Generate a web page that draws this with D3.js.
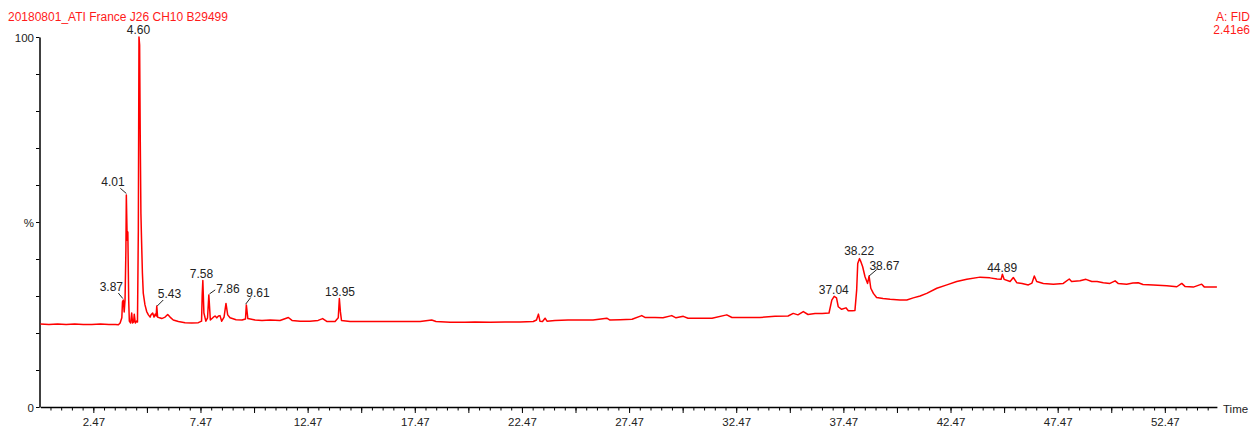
<!DOCTYPE html>
<html lang="en">
<head>
<meta charset="UTF-8">
<title>20180801_ATI France J26 CH10 B29499</title>
<script src="https://cdn.jsdelivr.net/npm/d3@7"></script>
<style>
    body { margin: 0; background: #fff; }
    svg { display: block; font-family: "Liberation Sans", Arial, sans-serif; }
</style>
</head>
<body>
<svg id="chart" width="1252" height="427"></svg>
<script>
// chromatogram trace: [retention time (min), % of max]
const signal = [
    [0.00,22.4],[0.40,22.3],[0.80,22.4],[1.20,22.3],[1.60,22.4],[2.00,22.3],[2.40,22.3],[2.80,22.4],[3.20,22.3],[3.50,22.3],
    [3.64,22.2],[3.72,22.7],[3.80,24.1],[3.83,28.4],[3.87,28.9],[3.91,25.7],[3.95,28.9],[3.99,42.4],[4.01,57.3],[4.05,45.1],
    [4.08,47.3],[4.12,28.9],[4.15,23.2],[4.21,22.7],[4.26,25.4],[4.30,22.7],[4.35,23.0],[4.38,25.1],[4.43,22.7],[4.49,23.2],
    [4.53,23.0],[4.57,47.8],[4.60,100],[4.63,97.8],[4.66,72.2],[4.69,52.4],[4.72,45.1],[4.76,36.2],[4.80,30.8],[4.88,27.6],
    [4.96,25.8],[5.04,24.9],[5.12,24.3],[5.16,24.9],[5.24,25.4],[5.30,24.3],[5.36,25.1],[5.40,24.6],[5.43,27.3],[5.47,24.3],
    [5.56,24.1],[5.66,23.9],[5.82,24.3],[5.94,25.0],[6.05,24.3],[6.20,23.5],[6.44,23.1],[6.75,22.8],[7.06,22.7],[7.37,22.8],
    [7.52,23.2],[7.55,30.3],[7.58,34.2],[7.63,25.4],[7.72,23.2],[7.80,24.1],[7.86,30.3],[7.93,23.5],[8.06,24.2],[8.15,24.6],
    [8.23,24.1],[8.31,24.6],[8.38,24.7],[8.46,23.2],[8.57,24.3],[8.66,28.0],[8.74,24.9],[8.85,24.1],[9.13,23.6],[9.41,23.5],
    [9.57,23.8],[9.61,27.6],[9.68,23.9],[10.02,23.5],[10.34,23.4],[10.72,23.5],[11.18,23.4],[11.57,24.2],[11.74,23.4],[12.12,23.2],
    [12.58,23.2],[12.96,23.4],[13.17,23.9],[13.38,23.1],[13.75,23.1],[13.90,24.1],[13.95,29.3],[14.00,25.7],[14.05,23.4],[14.45,23.1],
    [15.15,23.1],[15.85,23.1],[16.55,23.1],[17.25,23.1],[17.72,23.1],[18.26,23.5],[18.46,23.1],[19.12,22.9],[19.81,22.9],[20.28,23.0],
    [21.00,22.9],[21.68,23.0],[22.38,23.0],[23.00,23.1],[23.15,23.5],[23.24,25.1],[23.31,23.2],[23.43,23.1],[23.55,24.0],[23.64,23.2],
    [24.01,23.4],[24.62,23.5],[25.18,23.5],[25.79,23.5],[26.43,24.0],[26.58,23.5],[27.05,23.6],[27.61,23.7],[28.06,24.7],[28.21,24.2],
    [28.68,24.2],[29.05,24.1],[29.46,24.7],[29.66,24.1],[30.00,24.5],[30.22,24.0],[30.78,24.0],[31.34,24.0],[32.03,24.9],[32.27,24.2],
    [32.88,24.2],[33.58,24.2],[34.28,24.5],[34.89,24.6],[35.13,25.3],[35.35,24.9],[35.60,25.8],[35.82,25.0],[36.15,25.3],[36.48,25.3],
    [36.80,25.4],[36.93,28.9],[37.04,29.9],[37.15,29.5],[37.23,27.1],[37.39,26.4],[37.59,26.8],[37.70,26.0],[37.88,26.0],[38.01,26.1],
    [38.09,31.6],[38.14,38.8],[38.22,40.1],[38.27,39.5],[38.37,37.9],[38.48,35.2],[38.60,33.4],[38.67,35.4],[38.75,32.1],[38.87,30.7],
    [39.02,29.6],[39.32,29.3],[39.65,29.1],[40.11,28.9],[40.43,28.9],[40.73,29.5],[41.05,30.0],[41.36,30.7],[41.83,32.1],[42.30,33.0],
    [42.76,33.9],[43.23,34.5],[43.85,35.1],[44.31,34.9],[44.64,34.6],[44.83,34.5],[44.89,35.9],[44.97,34.5],[45.25,33.9],[45.40,35.0],
    [45.56,33.6],[45.81,33.4],[46.10,33.0],[46.27,33.5],[46.38,35.4],[46.49,33.9],[46.80,33.4],[47.27,33.2],[47.73,33.4],[48.01,34.6],
    [48.12,33.9],[48.51,34.1],[48.79,34.5],[49.06,33.9],[49.31,33.9],[49.60,33.6],[49.91,33.4],[50.15,34.1],[50.29,33.4],[50.69,33.2],
    [50.98,33.5],[51.23,33.6],[51.45,33.1],[51.93,33.0],[52.56,32.8],[53.03,32.5],[53.26,33.4],[53.41,32.6],[53.80,32.4],[54.19,33.2],
    [54.32,32.4],[54.73,32.4],[54.90,32.4]
]

const peakNames = ["3.87","4.01","4.60","5.43","7.58","7.86","9.61","13.95","37.04","38.22","38.67","44.89"]
const peakTimes = [3.87,4.01,4.60,5.43,7.58,7.86,9.61,13.95,37.04,38.22,38.67,44.89]

const xTickLabels = ["2.47","7.47","12.47","17.47","22.47","27.47","32.47","37.47","42.47","47.47","52.47"]
const yTickLabels = ["0","%","100"]

const title = "20180801_ATI France J26 CH10 B29499"
const detector = "A: FID"
const scaleMax = "2.41e6"

// where each peak label sits relative to its peak top (px), with optional leader line
const labelLayout = [
    {anchor:"end", dx:-0.3, dy:-9, leader:[-5,-7,-0.5,-1.5]},
    {anchor:"end", dx:-1.6, dy:-8.7, leader:[-6,-6.7,0,-1.5]},
    {anchor:"middle", dx:-0.5, dy:-3},
    {anchor:"start", dx:1, dy:-7.5, leader:[0.5,0,6.5,-6]},
    {anchor:"middle", dx:-1.3, dy:-2},
    {anchor:"start", dx:7.4, dy:-1.5, leader:[0.7,-1,6.4,-5]},
    {anchor:"start", dx:0, dy:-8.3, leader:[-0.7,-0.7,4.3,-7.3]},
    {anchor:"middle", dx:0.7, dy:-2.8},
    {anchor:"middle", dx:-0.4, dy:-2.5},
    {anchor:"middle", dx:-0.3, dy:-4},
    {anchor:"start", dx:0.3, dy:-6.5, leader:[0,0,7.7,-6.5]},
    {anchor:"middle", dx:-0.2, dy:-2}
]

let svg = d3.select("#chart")

let x = d3.scaleLinear().domain([0, 54.9]).range([40.4, 1216.9])
let y = d3.scaleLinear().domain([0, 100]).range([407, 37])

// title + detector info
svg.append("text").attr("x", 8).attr("y", 21).attr("font-size", 12).attr("fill", "#ff1a1a").text(title)
svg.append("text").attr("x", 1250).attr("y", 21).attr("font-size", 12).attr("fill", "#ff1a1a")
    .attr("text-anchor", "end").text(detector)
svg.append("text").attr("x", 1250).attr("y", 34).attr("font-size", 12).attr("fill", "#ff1a1a")
    .attr("text-anchor", "end").text(scaleMax)

// x axis: minor ticks every 0.5, longer ticks every 2.5, labels every 5
let minorTicks = d3.range(0.47, 54.9, 0.5)
let majorTicks = d3.range(2.47, 54.9, 2.5)

svg.append("g")
    .attr("transform", "translate(0,407)")
    .call(d3.axisBottom(x).tickValues(minorTicks).tickSize(3.5).tickSizeOuter(0).tickFormat(""))
    .call(g => g.select(".domain").attr("stroke-width", 1.5).attr("stroke", "#000"))
    .call(g => g.selectAll(".tick line").attr("stroke", "#000"))

svg.append("g")
    .attr("transform", "translate(0,407)")
    .call(d3.axisBottom(x).tickValues(majorTicks).tickSize(6).tickSizeOuter(0)
        .tickFormat(d => { let s = d.toFixed(2); return xTickLabels.includes(s) ? s : "" }))
    .call(g => g.select(".domain").remove())
    .call(g => g.selectAll(".tick line").attr("stroke", "#000"))
    .call(g => g.selectAll("text").attr("y", 18.5).attr("dy", null)
        .attr("font-size", 11.5).attr("font-family", "Liberation Sans, Arial, sans-serif").attr("fill", "#222"))

svg.append("text").attr("x", 1223).attr("y", 412.5).attr("font-size", 11.5).attr("fill", "#222").text("Time")

// y axis: tick every 10 %, labels at 0, 50 (as %), 100
svg.append("g")
    .attr("transform", "translate(39.5,0)")
    .call(d3.axisLeft(y).tickValues(d3.range(0, 101, 10)).tickSize(3.5).tickSizeOuter(0)
        .tickFormat(d => d == 0 ? yTickLabels[0] : d == 50 ? yTickLabels[1] : d == 100 ? yTickLabels[2] : ""))
    .call(g => g.select(".domain").attr("stroke-width", 1.5).attr("stroke", "#000"))
    .call(g => g.selectAll(".tick line").attr("stroke", "#000"))
    .call(g => g.selectAll("text").attr("x", -5.5).attr("dy", "0.35em")
        .attr("font-size", 11.5).attr("font-family", "Liberation Sans, Arial, sans-serif").attr("fill", "#222"))

// trace
let line = d3.line().x(d => x(d[0])).y(d => y(d[1]))
svg.append("path")
    .datum(signal)
    .attr("d", line)
    .attr("fill", "none")
    .attr("stroke", "#ff0000")
    .attr("stroke-width", 1.5)
    .attr("stroke-linejoin", "round")

// peak labels
peakNames.forEach((name, i) => {
    let near = signal.filter(d => Math.abs(d[0] - peakTimes[i]) <= 0.04)
    let top = d3.greatest(near, d => d[1])
    let px = x(top[0]), py = y(top[1])
    let lay = labelLayout[i]
    svg.append("text")
        .attr("x", px + lay.dx).attr("y", py + lay.dy)
        .attr("text-anchor", lay.anchor)
        .attr("font-size", 12).attr("fill", "#222")
        .text(name)
    if (lay.leader) {
        svg.append("line")
            .attr("x1", px + lay.leader[0]).attr("y1", py + lay.leader[1])
            .attr("x2", px + lay.leader[2]).attr("y2", py + lay.leader[3])
            .attr("stroke", "#222").attr("stroke-width", 1)
    }
})
</script>
</body>
</html>
